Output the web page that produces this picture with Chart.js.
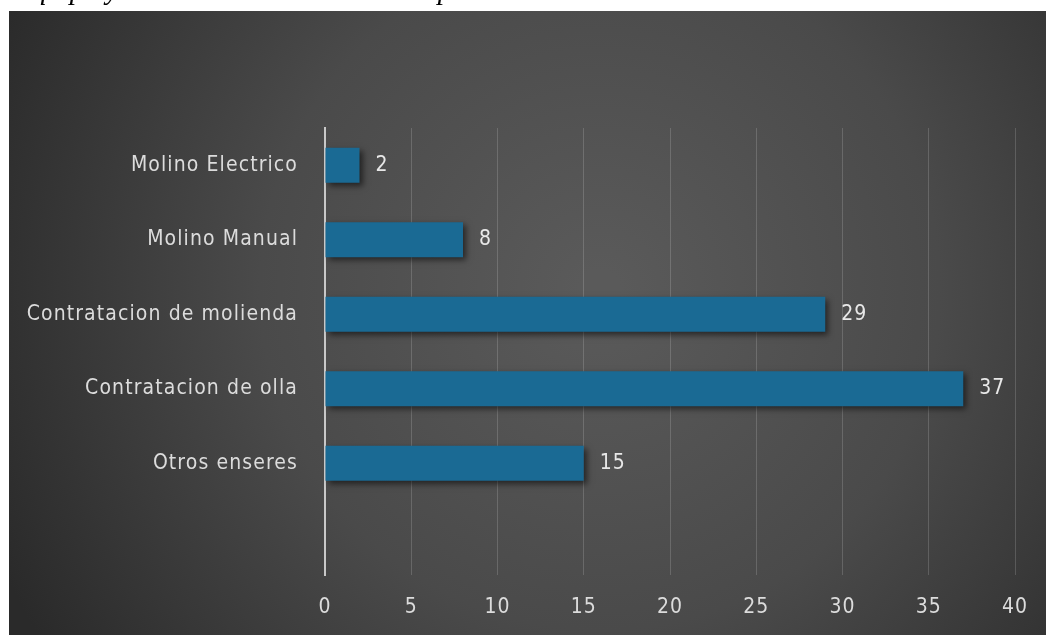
<!DOCTYPE html>
<html>
<head>
<meta charset="utf-8">
<script src="https://cdn.jsdelivr.net/npm/chart.js@4.4.1/dist/chart.umd.min.js"></script>
<style>
  html, body { margin: 0; padding: 0; background: #ffffff; }
  #wrap { width: 1046px; height: 635px; position: relative; }
</style>
</head>
<body>
<div id="wrap"><canvas id="c" width="1046" height="635"></canvas></div>
<script>
// Equipment categories (the trailing blank row leaves an empty slot at the bottom)
const categories = ['Molino Electrico', 'Molino Manual', 'Contratacion de molienda', 'Contratacion de olla', 'Otros enseres', ''];
const counts = [2, 8, 29, 37, 15, null];
const tickValues = [0, 5, 10, 15, 20, 25, 30, 35, 40];
const captionText = 'Equipo y herramientas de molienda para el uso';

const FONT = '"DejaVu Sans Condensed", "Liberation Sans Narrow", "DejaVu Sans", sans-serif';
const SPACING = '1.1px';

// Slightly open tracking for all chart text
const tracking = {
  id: 'tracking',
  beforeInit(chart) { chart.ctx.letterSpacing = SPACING; },
  beforeUpdate(chart) { chart.ctx.letterSpacing = SPACING; },
  beforeDraw(chart) { chart.ctx.letterSpacing = SPACING; }
};

// Dark panel with a soft radial glow, plus the clipped caption above it
const panelBackground = {
  id: 'panelBackground',
  beforeDraw(chart) {
    const ctx = chart.ctx;
    ctx.save();
    ctx.fillStyle = '#ffffff';
    ctx.fillRect(0, 0, chart.width, chart.height);
    const x0 = 9, y0 = 11, w = chart.width - x0, h = chart.height - y0;
    const g = ctx.createRadialGradient(600, 290, 20, 600, 290, 660);
    g.addColorStop(0, '#5a5a5a');
    g.addColorStop(0.5, '#4a4a4a');
    g.addColorStop(1, '#2a2a2a');
    ctx.fillStyle = g;
    ctx.fillRect(x0, y0, w, h);
    // caption: only its descenders fall inside the frame
    ctx.beginPath();
    ctx.rect(0, 0, chart.width, y0);
    ctx.clip();
    ctx.letterSpacing = '0px';
    ctx.fillStyle = '#000000';
    ctx.font = 'italic 29px "Liberation Serif", "DejaVu Serif", serif';
    ctx.textBaseline = 'alphabetic';
    ctx.textAlign = 'left';
    ctx.fillText(captionText, 15, -1);
    ctx.restore();
    ctx.letterSpacing = SPACING;
  }
};

// Drop shadow under the bars
const barStyle = {
  id: 'barStyle',
  beforeDatasetsDraw(chart) {
    const ctx = chart.ctx;
    ctx.save();
    ctx.shadowColor = 'rgba(0,0,0,0.55)';
    ctx.shadowBlur = 6;
    ctx.shadowOffsetX = 3;
    ctx.shadowOffsetY = 3;
  },
  afterDatasetsDraw(chart) {
    chart.ctx.restore();
  }
};

// Value labels to the right of each bar
const valueLabels = {
  id: 'valueLabels',
  afterDatasetsDraw(chart) {
    const ctx = chart.ctx;
    const meta = chart.getDatasetMeta(0);
    ctx.save();
    ctx.fillStyle = '#e8e8e8';
    ctx.font = '21px ' + FONT;
    ctx.textAlign = 'left';
    ctx.textBaseline = 'middle';
    meta.data.forEach((bar, i) => {
      const v = counts[i];
      if (v === null || v === undefined) return;
      ctx.fillText(String(v), bar.x + 16, bar.y);
    });
    ctx.restore();
  }
};

function barGradient(context) {
  const chart = context.chart;
  const el = context.element;
  if (!el || el.y === undefined) return '#1a6a94';
  const half = (el.height || 35) / 2;
  const g = chart.ctx.createLinearGradient(0, el.y - half, 0, el.y + half);
  g.addColorStop(0, '#3d8db6');
  g.addColorStop(0.12, '#2076a5');
  g.addColorStop(0.6, '#186b95');
  g.addColorStop(1, '#0e577b');
  return g;
}

new Chart(document.getElementById('c'), {
  type: 'bar',
  data: {
    labels: categories,
    datasets: [{
      data: counts,
      backgroundColor: barGradient,
      borderWidth: 0,
      barPercentage: 0.47,
      categoryPercentage: 1.0
    }]
  },
  options: {
    indexAxis: 'y',
    responsive: false,
    animation: false,
    devicePixelRatio: 1,
    layout: { padding: { top: 128, right: 31, left: 0, bottom: 0 } },
    plugins: { legend: { display: false }, tooltip: { enabled: false } },
    scales: {
      x: {
        min: 0,
        max: 40,
        afterBuildTicks(scale) { scale.ticks = tickValues.map(v => ({ value: v })); },
        afterFit(scale) {
          scale.height = 60;
          scale.paddingLeft = 0;
          scale.paddingRight = 0;
        },
        grid: {
          color: 'rgba(255,255,255,0.16)',
          lineWidth: 1,
          drawTicks: false
        },
        border: { display: false },
        ticks: {
          color: '#dcdcdc',
          font: { family: FONT, size: 21 },
          padding: 20
        }
      },
      y: {
        afterFit(scale) {
          scale.width = 325;
          scale.paddingTop = 0;
          scale.paddingBottom = 0;
        },
        grid: { display: false },
        border: { display: true, color: '#c8c8c8', width: 2 },
        ticks: {
          color: '#dcdcdc',
          font: { family: FONT, size: 21 },
          padding: 19
        }
      }
    }
  },
  plugins: [tracking, panelBackground, barStyle, valueLabels]
});
</script>
</body>
</html>
